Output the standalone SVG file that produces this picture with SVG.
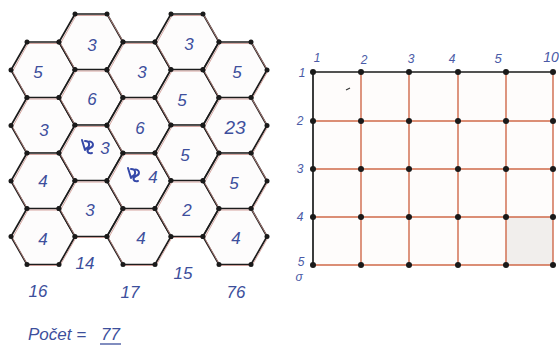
<svg xmlns="http://www.w3.org/2000/svg" xmlns:xlink="http://www.w3.org/1999/xlink" width="559" height="362" viewBox="0 0 559 362">
<style>
.hx{fill:#fdfcfc;stroke:#1c1c1c;stroke-width:1.7;stroke-linejoin:round}
.hr{fill:none;stroke:#c9908a;stroke-width:1;opacity:.8}
.dot{fill:#1a1a1a}
.n{font-family:"Liberation Sans",Arial,sans-serif;font-size:17px;fill:#3d4f9c;text-anchor:middle;font-style:italic}
.s{font-family:"Liberation Sans",Arial,sans-serif;font-size:12px;fill:#4a5aa6;text-anchor:middle;font-style:italic}
.gr{stroke:#cf6a4a;stroke-width:1.4;fill:none}
.gb{stroke:#1a1a1a;stroke-width:1.7;fill:none}
.scr{fill:none;stroke:#3548a8;stroke-width:2;stroke-linecap:round}
</style>
<defs>
<g id="hex">
<polygon class="hx" points="-32,0 -16,-28 16,-28 32,0 16,28 -16,28"/>
<polygon class="hr" points="-30.5,1.5 -15,-26.5 17,-26.5 33,1 17,29 -15,29"/>
<circle class="dot" cx="-32" cy="0" r="2.5"/><circle class="dot" cx="-16" cy="-28" r="2.5"/>
<circle class="dot" cx="16" cy="-28" r="2.5"/><circle class="dot" cx="32" cy="0" r="2.5"/>
<circle class="dot" cx="16" cy="28" r="2.5"/><circle class="dot" cx="-16" cy="28" r="2.5"/>
</g>
</defs>
<rect width="559" height="362" fill="#ffffff"/>
<g id="hexgrid">
<g id="h00"><use xlink:href="#hex" x="43" y="70"/><text class="n" x="38" y="78">5</text></g>
<g id="h01"><use xlink:href="#hex" x="43" y="125.5"/><text class="n" x="44" y="136">3</text></g>
<g id="h02"><use xlink:href="#hex" x="43" y="181"/><text class="n" x="43" y="187">4</text></g>
<g id="h03"><use xlink:href="#hex" x="43" y="236.5"/><text class="n" x="43" y="245">4</text></g>
<g id="h10"><use xlink:href="#hex" x="91" y="42"/><text class="n" x="92" y="51">3</text></g>
<g id="h11"><use xlink:href="#hex" x="91" y="97.5"/><text class="n" x="92" y="105">6</text></g>
<g id="h12"><use xlink:href="#hex" x="91" y="153"/><path class="scr" d="M82,140 l3,10 M85,141 c5,0 6,6 0,8 M88,142 c5,-2 7,4 2,6 c-4,2 -3,6 2,5"/><text class="n" x="105" y="154">3</text></g>
<g id="h13"><use xlink:href="#hex" x="91" y="208.5"/><text class="n" x="90" y="216">3</text></g>
<g id="h20"><use xlink:href="#hex" x="139" y="70"/><text class="n" x="142" y="78">3</text></g>
<g id="h21"><use xlink:href="#hex" x="139" y="125.5"/><text class="n" x="140" y="134">6</text></g>
<g id="h22"><use xlink:href="#hex" x="139" y="181"/><path class="scr" d="M128,168 l3,10 M131,169 c5,0 6,6 0,8 M134,170 c5,-2 7,4 2,6 c-4,2 -3,6 2,5"/><text class="n" x="153" y="183">4</text></g>
<g id="h23"><use xlink:href="#hex" x="139" y="236.5"/><text class="n" x="141" y="244">4</text></g>
<g id="h30"><use xlink:href="#hex" x="187" y="42"/><text class="n" x="189" y="50">3</text></g>
<g id="h31"><use xlink:href="#hex" x="187" y="97.5"/><text class="n" x="182" y="106">5</text></g>
<g id="h32"><use xlink:href="#hex" x="187" y="153"/><text class="n" x="185" y="161">5</text></g>
<g id="h33"><use xlink:href="#hex" x="187" y="208.5"/><text class="n" x="187" y="216">2</text></g>
<g id="h40"><use xlink:href="#hex" x="235" y="70"/><text class="n" x="237" y="78">5</text></g>
<g id="h41"><use xlink:href="#hex" x="235" y="125.5"/><text class="n" x="235" y="134" style="font-size:19px">23</text></g>
<g id="h42"><use xlink:href="#hex" x="235" y="181"/><text class="n" x="234" y="189">5</text></g>
<g id="h43"><use xlink:href="#hex" x="235" y="236.5"/><text class="n" x="236" y="244">4</text></g>
</g>
<g id="hexlabels">
<text class="n" x="85" y="269">14</text>
<text class="n" x="183" y="279">15</text>
<text class="n" x="38" y="297">16</text>
<text class="n" x="130" y="298">17</text>
<text class="n" x="236" y="298">76</text>
</g>
<g id="grid">
<rect x="313" y="72" width="240" height="193" fill="#fefcfb"/>
<rect x="506" y="217" width="47" height="48" fill="#f1eeec"/>
<g id="connectors">
<path class="gr" d="M361,72V265M409,72V265M458,72V265M506,72V265M553,72V265"/>
<path class="gr" d="M313,121H553M313,169H553M313,217H553M313,265H553"/>
<path class="gb" d="M313,265V72H553"/>
</g>
<g id="gdots" class="dot">
<circle cx="313" cy="72" r="3"/><circle cx="361" cy="72" r="3"/><circle cx="409" cy="72" r="3"/><circle cx="458" cy="72" r="3"/><circle cx="506" cy="72" r="3"/><circle cx="553" cy="72" r="3"/>
<circle cx="313" cy="121" r="3"/><circle cx="361" cy="121" r="3"/><circle cx="409" cy="121" r="3"/><circle cx="458" cy="121" r="3"/><circle cx="506" cy="121" r="3"/><circle cx="553" cy="121" r="3"/>
<circle cx="313" cy="169" r="3"/><circle cx="361" cy="169" r="3"/><circle cx="409" cy="169" r="3"/><circle cx="458" cy="169" r="3"/><circle cx="506" cy="169" r="3"/><circle cx="553" cy="169" r="3"/>
<circle cx="313" cy="217" r="3"/><circle cx="361" cy="217" r="3"/><circle cx="409" cy="217" r="3"/><circle cx="458" cy="217" r="3"/><circle cx="506" cy="217" r="3"/><circle cx="553" cy="217" r="3"/>
<circle cx="313" cy="265" r="3"/><circle cx="361" cy="265" r="3"/><circle cx="409" cy="265" r="3"/><circle cx="458" cy="265" r="3"/><circle cx="506" cy="265" r="3"/><circle cx="553" cy="265" r="3"/>
</g>
<path d="M346,90l4,-2" stroke="#333" stroke-width="1.2"/>
<g id="glabels">
<text class="s" x="317" y="62">1</text>
<text class="s" x="364" y="64">2</text>
<text class="s" x="411" y="63">3</text>
<text class="s" x="452" y="63">4</text>
<text class="s" x="498" y="63" style="font-size:13px">5</text>
<text class="s" x="551" y="62" style="font-size:14px">10</text>
<text class="s" x="302" y="77">1</text>
<text class="s" x="300" y="125">2</text>
<text class="s" x="300" y="173">3</text>
<text class="s" x="300" y="221">4</text>
<text class="s" x="301" y="266">5</text>
<text class="s" x="299" y="281">σ</text>
</g>
</g>
<g id="total">
<text class="n" x="28" y="340" style="text-anchor:start;font-size:17px">Počet =</text>
<text class="n" x="101" y="340" style="text-anchor:start;font-size:17px">77</text>
<path d="M100,344H121" stroke="#3d4f9c" stroke-width="1.3"/>
</g>
</svg>
